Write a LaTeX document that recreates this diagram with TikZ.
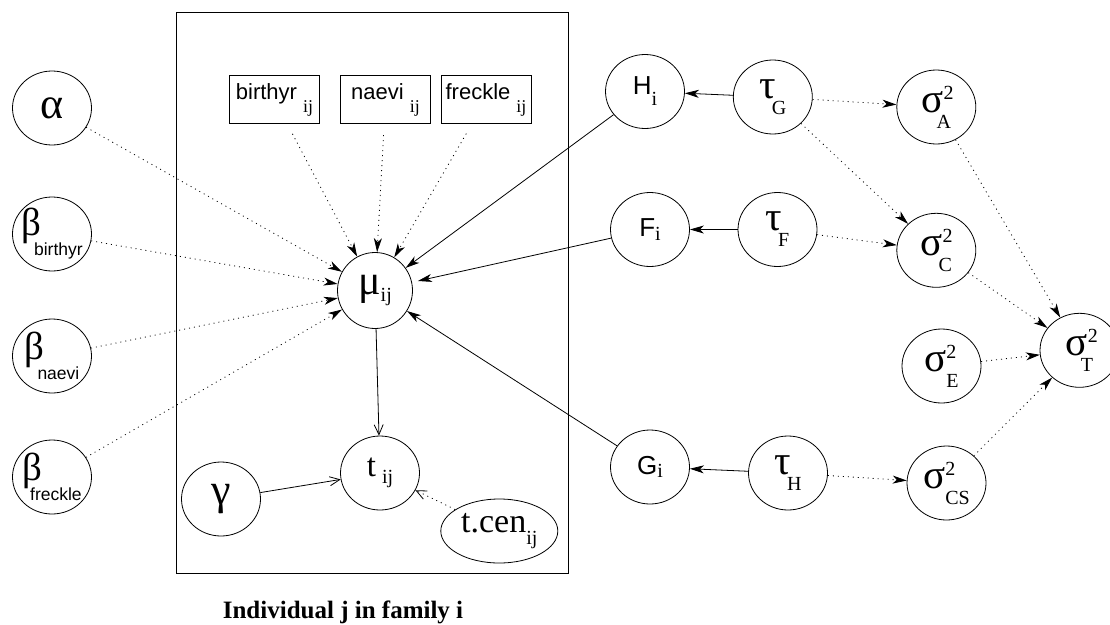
\documentclass[tikz,border=0pt]{standalone}
\usepackage{fontspec}
\setmainfont{Liberation Serif}
\newfontfamily\hv{Liberation Sans}
\usetikzlibrary{arrows.meta,shapes.geometric}

\newcommand{\gk}[1]{{\fontsize{41}{41}\selectfont #1}}
\newcommand{\lo}[2]{\raisebox{-#1}{\fontsize{20}{20}\selectfont #2}}
\newcommand{\losf}[2]{\raisebox{-#1}{\hv\fontsize{17.5}{17.5}\selectfont #2}}
\newcommand{\sig}[2]{\gk{σ}\rlap{\raisebox{13pt}{\fontsize{20}{20}\selectfont 2}}\kern#1\lo{16pt}{#2}}
\newcommand{\cov}[1]{{\hv\fontsize{22}{22}\selectfont #1}\kern6pt\lo{13pt}{\fontsize{18}{18}\selectfont ij}}

\tikzset{
  var/.style={draw, ellipse, minimum width=79pt, minimum height=74pt, inner sep=-5pt, line width=0.8pt},
  obs/.style={draw, rectangle, minimum width=90pt, minimum height=48pt, inner sep=2pt, line width=0.8pt},
  dep/.style={-{Stealth[length=14pt,width=8pt,inset=4pt]}, dash pattern=on 1pt off 4pt, line width=0.8pt},
  det/.style={-{Stealth[length=14pt,width=8pt,inset=4pt]}, line width=0.8pt},
  opn/.style={-{Straight Barb[length=10pt,width=9pt]}, line width=0.8pt}
}

\begin{document}
\begin{tikzpicture}[x=1pt, y=-1pt]
\useasboundingbox (0,0) rectangle (1110,624);

% plate
\draw[line width=0.8pt] (176.7,12.3) rectangle (568.3,573.3);
\node[anchor=base] (caption) at (343,618) {\fontsize{25}{25}\selectfont\bfseries Individual j in family i};

% coefficients
\node[var] (alpha) at (52,108) {{\fontsize{44}{44}\selectfont α}};
\node[var] (bbirth) at (52,234) {{\fontsize{39}{39}\selectfont β}\kern-7pt\losf{20pt}{birthyr}};
\node[var] (bnaevi) at (52,356) {{\fontsize{39}{39}\selectfont β}\kern-7pt\losf{20pt}{naevi}};
\node[var] (bfreck) at (52,477) {{\fontsize{39}{39}\selectfont β}\kern-12pt\losf{20pt}{freckle}};

% inside the plate
\node[obs] (birthyr) at (274.5,99.7) {\cov{birthyr}};
\node[obs] (naevi) at (385.5,99.7) {\cov{naevi}};
\node[obs] (freckle) at (486,99.7) {\cov{freckle}};
\node[var, minimum width=75pt, minimum height=76pt] (mu) at (375,290.5) {{\fontsize{42}{42}\selectfont μ}\lo{7pt}{ij}};
\node[var] (t) at (380,473) {{\fontsize{33}{33}\selectfont t}\kern6pt\lo{7pt}{ij}};
\node[var] (gamma) at (221,499) {{\fontsize{44}{44}\selectfont γ}};
\node[var, minimum width=117pt, minimum height=64pt] (tcen) at (499.3,531) {{\fontsize{34}{34}\selectfont t.cen}\lo{12pt}{ij}};

% family effects
\node[var] (Hi) at (645,91.5) {{\hv\fontsize{26}{26}\selectfont H}\lo{11pt}{i}};
\node[var] (Fi) at (650,229.5) {{\hv\fontsize{26}{26}\selectfont F}\lo{4pt}{i}};
\node[var] (Gi) at (650,467) {{\hv\fontsize{26}{26}\selectfont G}\lo{3pt}{i}};
\node[var] (tauG) at (772.8,97) {\gk{τ}\kern-4pt\lo{16pt}{G}};
\node[var] (tauF) at (777.5,229.5) {\gk{τ}\kern-4pt\lo{16pt}{F}};
\node[var] (tauH) at (788,473) {\gk{τ}\kern-4pt\lo{16pt}{H}};

% variances
\node[var] (sigA) at (936.3,107) {\sig{-7pt}{A}};
\node[var] (sigC) at (936.3,250.3) {\sig{-4pt}{C}};
\node[var] (sigE) at (941.5,366) {\sig{0pt}{E}};
\node[var] (sigCS) at (946.5,483) {\sig{0pt}{CS}};
\node[var] (sigT) at (1079.5,350.3) {\sig{-7pt}{T}};

% edges into mu
\foreach \n in {alpha,bbirth,bnaevi,bfreck}
  \draw[dep] (\n) -- (mu);
\foreach \n in {birthyr,naevi,freckle}
  \draw[dep, shorten <=11pt] (\n) -- (mu);
\draw[det] (Hi) -- (mu);
\draw[det, shorten >=6pt] (Fi) -- (mu);
\draw[det] (Gi) -- (mu);

% edges into t
\draw[opn] (mu) -- (t);
\draw[opn] (gamma) -- (t);
\draw[opn, dash pattern=on 1pt off 4pt] (tcen) -- (t);

% precisions
\draw[det] (tauG) -- (Hi);
\draw[det] (tauF) -- (Fi);
\draw[det] (tauH) -- (Gi);
\draw[dep] (tauG) -- (sigA);
\draw[dep] (tauG) -- (sigC);
\draw[dep] (tauF) -- (sigC);
\draw[dep] (tauH) -- (sigCS);
\foreach \n in {sigA,sigC,sigE,sigCS}
  \draw[dep] (\n) -- (sigT);
\end{tikzpicture}
\end{document}
